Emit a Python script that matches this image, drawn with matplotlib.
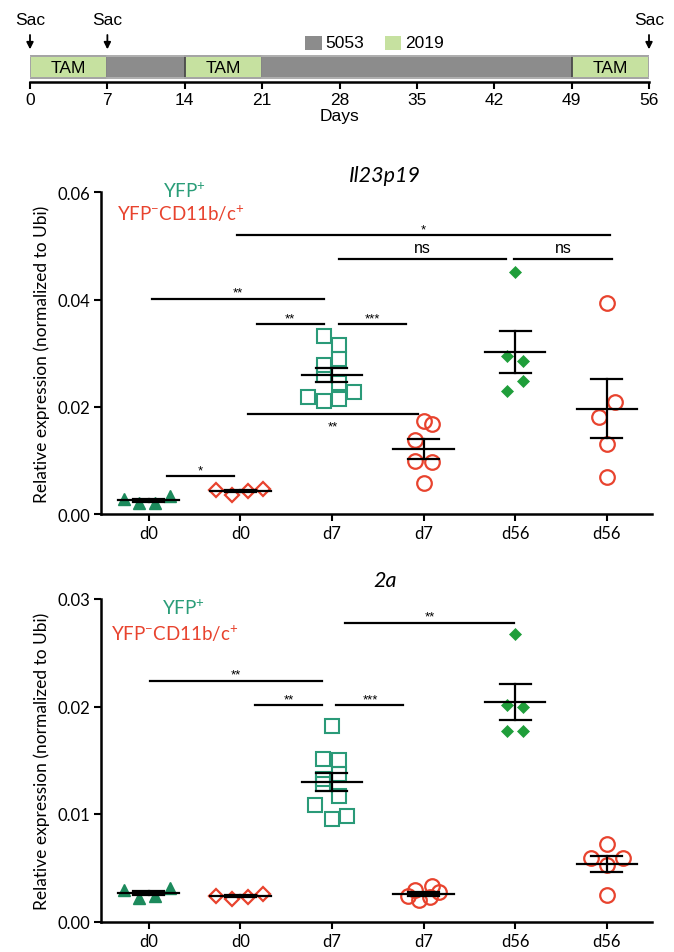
import numpy as np
import matplotlib.pyplot as plt
from matplotlib.patches import Rectangle

plt.rcParams['font.family'] = ['Lato', 'DejaVu Sans']
plt.rcParams['mathtext.fontset'] = 'custom'
plt.rcParams['mathtext.rm'] = 'Lato'
plt.rcParams['mathtext.it'] = 'Lato:italic'

# ── timeline (days) ──
seg_start = [0, 7, 14, 21, 49]
seg_end = [7, 14, 21, 49, 56]
seg_diet = ['2019', '5053', '2019', '5053', '2019']
sac_days = [0, 7, 56]
day_ticks = [0, 7, 14, 21, 28, 35, 42, 49, 56]

# ── groups ──
group_labels = ['d0', 'd0', 'd7', 'd7', 'd56', 'd56']

# Il23p19 (relative expression)
il23_values = [
    [0.0028, 0.0020, 0.0020, 0.0034],
    [0.0045, 0.0036, 0.0042, 0.0047],
    [0.0332, 0.0316, 0.0290, 0.0277, 0.0260, 0.0245, 0.0219, 0.0211, 0.0215, 0.0228],
    [0.0173, 0.0167, 0.0138, 0.0098, 0.0097, 0.0058],
    [0.0452, 0.0294, 0.0286, 0.0248, 0.0230],
    [0.0394, 0.0209, 0.0181, 0.0130, 0.0069],
]
# 2a (relative expression)
a2_values = [
    [0.0029, 0.0022, 0.0024, 0.0031],
    [0.0024, 0.0021, 0.0023, 0.0026],
    [0.0182, 0.0151, 0.0150, 0.0137, 0.0133, 0.0128, 0.0117, 0.0108, 0.0095, 0.0098],
    [0.0024, 0.0029, 0.0020, 0.0023, 0.0033, 0.0027],
    [0.0267, 0.0201, 0.0200, 0.0177, 0.0177],
    [0.0072, 0.0059, 0.0059, 0.0053, 0.0025],
]

# column scatter offsets (category units)
il23_jitter = [
    [-0.27, -0.10, 0.07, 0.23],
    [-0.26, -0.09, 0.08, 0.25],
    [-0.09, 0.08, 0.08, -0.09, -0.09, 0.08, -0.26, -0.09, 0.08, 0.24],
    [0.0, 0.09, -0.09, -0.09, 0.09, 0.0],
    [0.0, -0.09, 0.08, 0.08, -0.09],
    [0.0, 0.09, -0.09, 0.0, 0.0],
]
a2_jitter = [
    [-0.27, -0.10, 0.07, 0.23],
    [-0.26, -0.09, 0.08, 0.25],
    [0.0, -0.10, 0.08, 0.08, -0.10, -0.10, 0.08, -0.18, 0.0, 0.16],
    [-0.17, -0.09, -0.05, 0.07, 0.09, 0.17],
    [0.0, -0.09, 0.09, -0.09, 0.09],
    [0.0, -0.17, 0.18, 0.0, 0.0],
]

# significance bars: start, end (category units), height, label
il23_sig_x0 = [0.96, 2.08, 3.99, 0.04, 1.18, 2.08, 1.08, 0.20]
il23_sig_x1 = [5.03, 3.90, 5.06, 1.91, 1.91, 2.81, 2.94, 0.93]
il23_sig_y = [0.0520, 0.0476, 0.0476, 0.0401, 0.0354, 0.0354, 0.0187, 0.0070]
il23_sig_lab = ['*', 'ns', 'ns', '**', '**', '***', '**', '*']
il23_sig_below = [False, False, False, False, False, False, True, False]

a2_sig_x0 = [2.14, 0.01, 1.16, 2.05]
a2_sig_x1 = [3.99, 1.89, 1.89, 2.78]
a2_sig_y = [0.0278, 0.0224, 0.0201, 0.0201]
a2_sig_lab = ['**', '**', '**', '***']
a2_sig_below = [False, False, False, False]

# ── styles ──
GREEN_T = '#1c8a5c'
GREEN_SQ = '#2a9a78'
GREEN_D = '#1f9e3a'
RED = '#e8432e'
ARIAL = ['Liberation Sans', 'DejaVu Sans']
marker_style = [
    dict(marker='^', ms=9, mfc=GREEN_T, mec=GREEN_T, mew=1.0),
    dict(marker='D', ms=7.5, mfc='none', mec=RED, mew=1.6),
    dict(marker='s', ms=10.5, mfc='none', mec=GREEN_SQ, mew=1.5),
    dict(marker='o', ms=10.5, mfc='none', mec=RED, mew=1.6),
    dict(marker='D', ms=6.5, mfc=GREEN_D, mec=GREEN_D, mew=0.5),
    dict(marker='o', ms=10.5, mfc='none', mec=RED, mew=1.6),
]

fig = plt.figure(figsize=(6.74, 9.53), dpi=100)
W, H = 674.0, 953.0

# ───────── timeline ─────────
ax_t = fig.add_axes([30 / W, 1 - 83 / H, 619 / W, 83 / H])
for s, e, d in zip(seg_start, seg_end, seg_diet):
    fc = '#c6e1a0' if d == '2019' else '#8c8c8c'
    ec = '#4a4a4a' if d == '2019' else '#8c8c8c'
    ax_t.add_patch(Rectangle((s, 0.045), e - s, 0.272, fc=fc, ec=ec, lw=1.3))
    if d == '2019':
        ax_t.text((s + e) / 2, 0.18, 'TAM', ha='center', va='center',
                  fontsize=12.5, family=ARIAL)
ax_t.add_patch(Rectangle((0, 0.045), 56, 0.272, fc='none', ec='#b5b5b5', lw=1.2))
for d in sac_days:
    ax_t.annotate('', xy=(d, 0.36), xytext=(d, 0.60),
                  arrowprops=dict(arrowstyle='-|>', color='black', lw=1.3,
                                  mutation_scale=10))
    ax_t.text(d, 0.75, 'Sac', ha='center', va='center', fontsize=12.5,
              family=ARIAL, clip_on=False)
ax_t.add_patch(Rectangle((24.9, 0.38), 1.5, 0.18, fc='#8c8c8c', ec='none', clip_on=False))
ax_t.text(26.7, 0.47, '5053', ha='left', va='center', fontsize=12.5, family=ARIAL)
ax_t.add_patch(Rectangle((32.1, 0.38), 1.5, 0.18, fc='#c6e1a0', ec='none', clip_on=False))
ax_t.text(33.9, 0.47, '2019', ha='left', va='center', fontsize=12.5, family=ARIAL)
ax_t.set_xlim(0, 56)
ax_t.set_ylim(0, 1)
for sp in ['top', 'left', 'right']:
    ax_t.spines[sp].set_visible(False)
ax_t.spines['bottom'].set_linewidth(1.8)
ax_t.set_yticks([])
ax_t.set_xticks(day_ticks)
ax_t.tick_params(axis='x', length=5, width=1.5, labelsize=12.5, pad=2)
for lab in ax_t.get_xticklabels():
    lab.set_family(ARIAL)
ax_t.set_xlabel('Days', fontsize=12.5, family=ARIAL, labelpad=1)


def draw_panel(ax, values, jitter, sx0, sx1, sy, slab, sbelow, ymax, yticks):
    for i, (vals, jit) in enumerate(zip(values, jitter)):
        vals = np.asarray(vals)
        xs = i + np.asarray(jit)
        ax.plot(xs, vals, ls='none', zorder=2, **marker_style[i])
        m = vals.mean()
        sem = vals.std(ddof=1) / np.sqrt(len(vals))
        ax.plot([i - 0.33, i + 0.33], [m, m], color='black', lw=1.6, zorder=3)
        ax.plot([i - 0.17, i + 0.17], [m + sem, m + sem], color='black', lw=1.6, zorder=3)
        ax.plot([i - 0.17, i + 0.17], [m - sem, m - sem], color='black', lw=1.6, zorder=3)
        ax.plot([i, i], [m - sem, m + sem], color='black', lw=1.6, zorder=3)
    for x0, x1, y, lab, below in zip(sx0, sx1, sy, slab, sbelow):
        ax.plot([x0, x1], [y, y], color='black', lw=1.6, clip_on=False)
        if lab == 'ns':
            off, fs = 8, 11.5
        else:
            off, fs = 4.5, 9.5
        if below:
            off = -9
        ax.annotate(lab, xy=((x0 + x1) / 2, y), xytext=(0, off),
                    textcoords='offset points', ha='center', va='center',
                    fontsize=fs, family=ARIAL, annotation_clip=False)
    ax.set_xlim(-0.52, 5.49)
    ax.set_ylim(0, ymax)
    ax.set_yticks(yticks)
    ax.set_yticklabels(['%.2f' % t for t in yticks])
    ax.set_xticks(range(len(group_labels)))
    ax.set_xticklabels(group_labels)
    for sp in ['top', 'right']:
        ax.spines[sp].set_visible(False)
    ax.spines['left'].set_linewidth(1.8)
    ax.spines['bottom'].set_linewidth(1.8)
    ax.tick_params(axis='both', length=5, width=1.5, labelsize=12, pad=3)
    ax.set_ylabel('Relative expression (normalized to Ubi)', fontsize=12.5, labelpad=5)


ax1 = fig.add_axes([101 / W, 438 / H, 550.7 / W, 321.7 / H])
draw_panel(ax1, il23_values, il23_jitter, il23_sig_x0, il23_sig_x1, il23_sig_y,
           il23_sig_lab, il23_sig_below, 0.06, [0.0, 0.02, 0.04, 0.06])
ax2 = fig.add_axes([101 / W, 30.5 / H, 550.7 / W, 322.5 / H])
draw_panel(ax2, a2_values, a2_jitter, a2_sig_x0, a2_sig_x1, a2_sig_y,
           a2_sig_lab, a2_sig_below, 0.03, [0.0, 0.01, 0.02, 0.03])

fig.text(385 / W, 1 - 176 / H, 'Il23p19', style='italic', fontsize=15.5,
         ha='center', va='center')
fig.text(385 / W, 1 - 581 / H, '2a', style='italic', fontsize=15.5,
         ha='center', va='center')

fig.text(184 / W, 1 - 191 / H, r'YFP$^{+}$', color='#2a9d78', fontsize=13.5,
         ha='center', va='center')
fig.text(181 / W, 1 - 214 / H, r'YFP$^{-}$CD11b/c$^{+}$', color=RED, fontsize=13.5,
         ha='center', va='center')
fig.text(183 / W, 1 - 608 / H, r'YFP$^{+}$', color='#2a9d78', fontsize=13.5,
         ha='center', va='center')
fig.text(175 / W, 1 - 634 / H, r'YFP$^{-}$CD11b/c$^{+}$', color=RED, fontsize=13.5,
         ha='center', va='center')

fig.savefig('out.png', dpi=100)
